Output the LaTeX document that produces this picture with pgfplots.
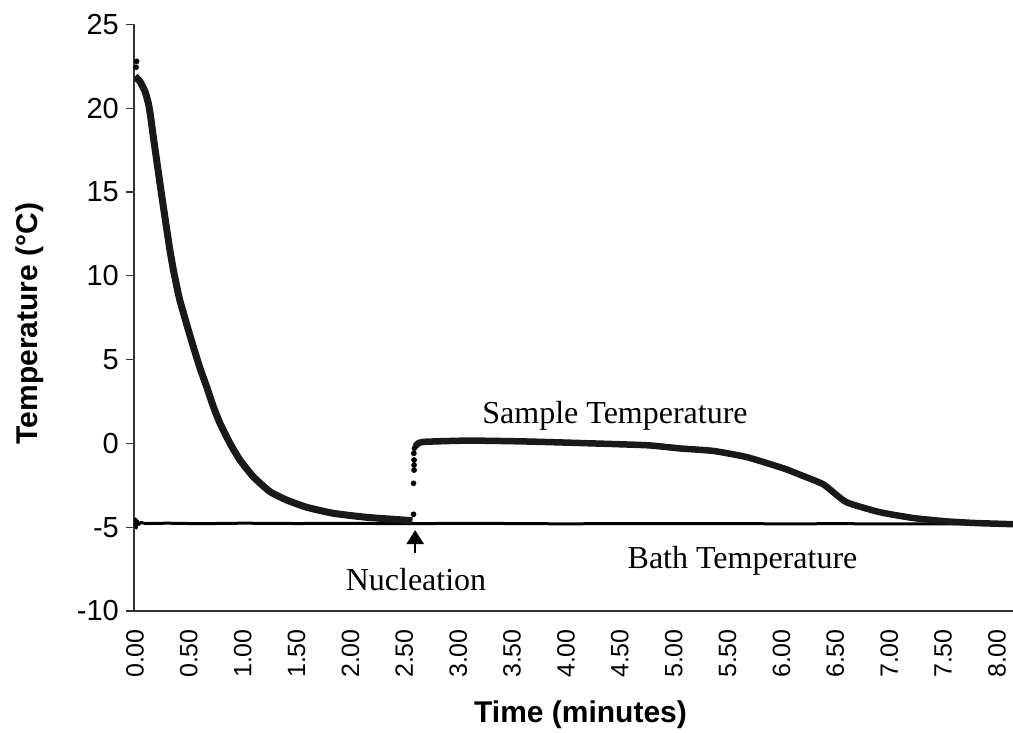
\documentclass[border=0pt]{standalone}
\usepackage{fontspec}
\setmainfont{Liberation Sans}
\newfontfamily\timesfont{Liberation Serif}
\usepackage{pgfplots}
\pgfplotsset{compat=1.18}
\usetikzlibrary{arrows.meta}

\begin{document}
\begin{tikzpicture}
\begin{axis}[
  at={(0pt,0pt)}, anchor=south west,
  scale only axis, width=879pt, height=586.5pt,
  xmin=-0.0093, xmax=8.1485, ymin=-10, ymax=25,
  axis x line*=bottom, axis y line*=left,
  axis line style={line width=1.2pt, black!80},
  xtick={0,0.5,1,1.5,2,2.5,3,3.5,4,4.5,5,5.5,6,6.5,7,7.5,8},
  ytick={-10,-5,0,5,10,15,20,25},
  /pgf/number format/assume math mode=true,
  tick align=outside,
  major tick length=8pt,
  xtick style={draw=none},
  ytick style={line width=1.2pt, black!80},
  xticklabel style={/pgf/number format/fixed, /pgf/number format/fixed zerofill,
    /pgf/number format/precision=2,
    yshift=-10pt, rotate=90, anchor=east, inner sep=0pt,
    font=\fontsize{25}{30}\selectfont},
  yticklabel style={anchor=east, inner sep=0pt, xshift=-7pt,
    font=\fontsize{29}{34}\selectfont},
  xlabel={Time (minutes)},
  xlabel style={at={(rel axis cs:0.508,0)}, anchor=base, yshift=-112pt,
    font=\fontsize{30}{36}\selectfont\bfseries},
  ylabel={Temperature (°C)},
  ylabel style={at={(rel axis cs:-0.1103,0.49)}, anchor=base,
    font=\fontsize{30}{36}\selectfont\bfseries},
  clip=true,
]

% bath temperature
\addplot[black, line width=3pt, line join=round] coordinates {
  (0,-4.95) (0.005,-4.5) (0.012,-5.05) (0.02,-4.6) (0.03,-4.85) (0.05,-4.72)
  (0.1,-4.78) (0.3,-4.76) (0.6,-4.79) (1.0,-4.76) (1.5,-4.78) (2.0,-4.77)
  (2.5,-4.79) (3.0,-4.77) (3.5,-4.78) (4.0,-4.8) (4.5,-4.78) (5.0,-4.79)
  (5.5,-4.78) (6.0,-4.8) (6.5,-4.79) (7.0,-4.8) (7.5,-4.8) (8.1485,-4.8)
};

% sample temperature: cooling before nucleation
\addplot[black!90, line width=7pt, line join=round, smooth, tension=0.3] coordinates {
  (0.0,21.9) (0.046,21.6) (0.093,21.0) (0.124,20.3) (0.145,19.5) (0.17,18.3)
  (0.201,16.9) (0.232,15.5) (0.257,14.4) (0.294,12.8) (0.325,11.5) (0.355,10.4)
  (0.393,9.2) (0.418,8.5) (0.48,7.1) (0.54,5.8) (0.603,4.5) (0.665,3.38)
  (0.727,2.2) (0.789,1.2) (0.882,0.0) (0.974,-0.99) (1.098,-1.99) (1.253,-2.88)
  (1.408,-3.38) (1.593,-3.81) (1.84,-4.17) (2.15,-4.41) (2.49,-4.57) (2.575,-4.62)
};

% first readings at the start
\addplot[only marks, mark=*, mark size=2.6pt, black] coordinates {
  (0.015,22.8) (0.01,22.45)
};

% jump at nucleation
\addplot[only marks, mark=*, mark size=2.6pt, black] coordinates {
  (2.585,-4.23) (2.585,-2.38) (2.59,-1.59) (2.59,-1.29) (2.59,-0.99)
  (2.588,-0.59) (2.593,-0.29)
};

% sample temperature: plateau and freezing
\addplot[black!90, line width=6.5pt, line join=round, smooth, tension=0.3] coordinates {
  (2.6,-0.2) (2.63,0.02) (2.7,0.1) (3.1,0.17) (3.6,0.12) (4.0,0.05)
  (4.5,-0.05) (4.78,-0.12) (5.06,-0.3) (5.37,-0.45) (5.68,-0.82) (6.02,-1.49)
  (6.18,-1.89) (6.39,-2.45) (6.6,-3.5) (6.91,-4.1) (7.22,-4.45) (7.53,-4.65)
  (7.8,-4.75) (8.1485,-4.82)
};

\node[font=\fontsize{32}{38}\selectfont\timesfont, anchor=base]
  at (axis cs:4.455,1.2) {Sample Temperature};
\node[font=\fontsize{32}{38}\selectfont\timesfont, anchor=base]
  at (axis cs:5.638,-7.45) {Bath Temperature};
\node[font=\fontsize{32}{38}\selectfont\timesfont, anchor=base]
  at (axis cs:2.608,-8.79) {Nucleation};
\draw[-{Triangle[length=14pt,width=17pt]}, line width=2.5pt, black]
  (axis cs:2.6,-6.55) -- (axis cs:2.6,-5.17);
\end{axis}
\pgfresetboundingbox
\useasboundingbox (-134pt,-122pt) rectangle (879pt,611pt);
\end{tikzpicture}
\end{document}
